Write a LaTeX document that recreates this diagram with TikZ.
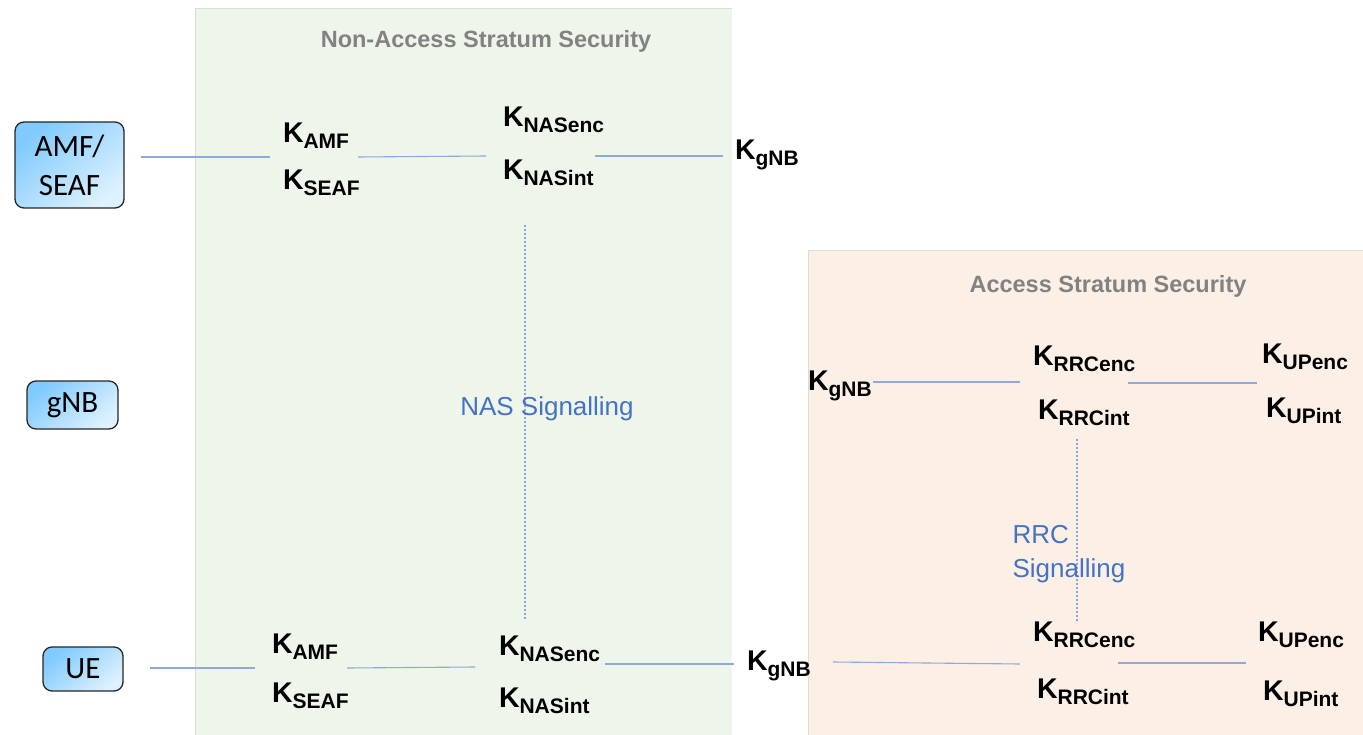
\documentclass[tikz,border=0pt]{standalone}
\usepackage{fontspec}
\setmainfont{Liberation Sans}
\newfontfamily\boxfont{Carlito}
\usetikzlibrary{calc}

\definecolor{nasbg}{HTML}{EEF5EA}
\definecolor{asbg}{HTML}{FBEFE6}
\definecolor{panelrule}{HTML}{DADDD8}
\definecolor{linkcol}{HTML}{8EA9DB}
\definecolor{sigcol}{HTML}{4472C4}
\definecolor{dotcol}{HTML}{8AA4D8}
\definecolor{titlegray}{HTML}{828282}
\definecolor{boxdark}{HTML}{80CAFD}
\definecolor{boxlight}{HTML}{DDF1FF}

% key name with lowered subscript
\newcommand\KK[1]{K\raisebox{-6pt}{\fontsize{21}{21}\selectfont #1}}

\tikzset{
  keynode/.style={inner sep=0pt, outer sep=0pt, anchor=base west,
                  font=\fontsize{28.5}{30}\selectfont\bfseries},
  entity/.style={draw=black!85, line width=1.3pt, rounded corners=9pt,
                 shading=axis, top color=boxdark, bottom color=boxlight,
                 shading angle=40, font=\boxfont\fontsize{31}{39}\selectfont,
                 align=center, inner sep=0pt},
  link/.style={draw=linkcol, line width=1.1pt},
  sigline/.style={draw=dotcol, line width=1.2pt, dash pattern=on 2pt off 2pt},
  paneltitle/.style={font=\fontsize{23.5}{26}\selectfont\bfseries, text=titlegray, anchor=base},
  siglabel/.style={font=\fontsize{26}{34}\selectfont, text=sigcol},
}

\begin{document}
\begin{tikzpicture}[x=1pt, y=-1pt]
\useasboundingbox (0,0) rectangle (1363,735);

% security domains
\fill[nasbg] (195,8) rectangle (732,735);
\draw[panelrule, line width=0.8pt] (195,735) -- (195,8) -- (732,8);
\fill[asbg] (808,250) rectangle (1363,735);
\draw[panelrule, line width=0.8pt] (808,735) -- (808,250) -- (1363,250);

\node[paneltitle] (nastitle) at (486,48) {Non-Access Stratum Security};
\node[paneltitle] (astitle) at (1108,293) {Access Stratum Security};

% network entities
\node[entity, minimum width=109pt, minimum height=86pt] (amf) at (69.5,165) {AMF/\\SEAF};
\node[entity, minimum width=91pt, minimum height=48pt] (gnb) at (72.5,405) {gNB};
\node[entity, minimum width=80pt, minimum height=44pt] (ue) at (83,669) {UE};

% network side, NAS keys
\node[keynode] (kamfN)    at (283,143) {\KK{AMF}};
\node[keynode] (kseafN)   at (283,190) {\KK{SEAF}};
\node[keynode] (knasencN) at (503,127) {\KK{NASenc}};
\node[keynode] (knasintN) at (503,180) {\KK{NASint}};
\node[keynode] (kgnbN)    at (735,160) {\KK{gNB}};

% network side, AS keys
\node[keynode] (kgnbA)    at (808,390) {\KK{gNB}};
\node[keynode] (krrcencA) at (1033,365) {\KK{RRCenc}};
\node[keynode] (krrcintA) at (1038,419) {\KK{RRCint}};
\node[keynode] (kupencA)  at (1262,363) {\KK{UPenc}};
\node[keynode] (kupintA)  at (1266,417) {\KK{UPint}};

% UE side keys
\node[keynode] (kamfU)    at (272,653) {\KK{AMF}};
\node[keynode] (kseafU)   at (272,702) {\KK{SEAF}};
\node[keynode] (knasencU) at (499,655) {\KK{NASenc}};
\node[keynode] (knasintU) at (499,707) {\KK{NASint}};
\node[keynode] (kgnbU)    at (747,670) {\KK{gNB}};
\node[keynode] (krrcencU) at (1033,641) {\KK{RRCenc}};
\node[keynode] (krrcintU) at (1037,698) {\KK{RRCint}};
\node[keynode] (kupencU)  at (1258,641) {\KK{UPenc}};
\node[keynode] (kupintU)  at (1263,700) {\KK{UPint}};

% key derivation chains, network side
\draw[link] ([shift={(16,-8)}]amf.east) -- ([shift={(-13,14)}]kamfN.base west);
\draw[link] ([shift={(75,14)}]kamfN.base west) -- ([shift={(-17,29)}]knasencN.base west);
\draw[link] ([shift={(92,-24)}]knasintN.base west) -- ([shift={(-12,-4)}]kgnbN.base west);
\draw[link] ([shift={(65,-8)}]kgnbA.base west) -- ([shift={(-13,17)}]krrcencA.base west);
\draw[link] ([shift={(95,18)}]krrcencA.base west) -- ([shift={(-5,20)}]kupencA.base west);

% key derivation chains, UE side
\draw[link] ([shift={(26,-1)}]ue.east) -- ([shift={(-17,15)}]kamfU.base west);
\draw[link] ([shift={(75,15)}]kamfU.base west) -- ([shift={(-24,12)}]knasencU.base west);
\draw[link] ([shift={(106,9)}]knasencU.base west) -- ([shift={(-13,-6)}]kgnbU.base west);
\draw[link] ([shift={(86,-8)}]kgnbU.base west) -- ([shift={(-13,23)}]krrcencU.base west);
\draw[link] ([shift={(85,22)}]krrcencU.base west) -- ([shift={(-12,22)}]kupencU.base west);

% signalling paths
\coordinate (nasTop) at (525,225);
\coordinate (nasBot) at (525,620);
\draw[sigline] (nasTop) -- (nasBot);
\node[siglabel, anchor=base] (nassig) at (547,415) {NAS Signalling};

\coordinate (rrcTop) at (1077,439);
\coordinate (rrcBot) at (1077,622);
\draw[sigline] (rrcTop) -- (rrcBot);
% the base anchor of this two-line label sits on its last line
\node[siglabel, anchor=base west, align=left] (rrcsig) at (1009,577) {RRC\\Signalling};
\end{tikzpicture}
\end{document}
